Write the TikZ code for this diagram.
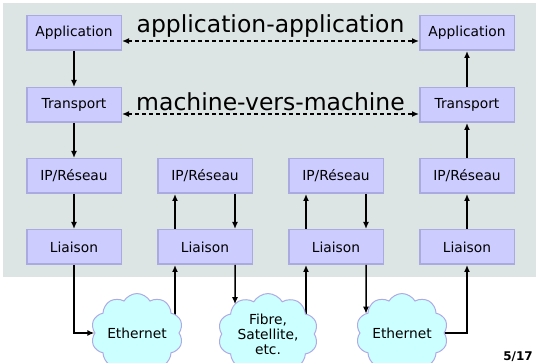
\documentclass[tikz,border=0pt]{standalone}
\usepackage{fontspec}
\setmainfont{DejaVu Sans}
\usetikzlibrary{shapes.symbols,arrows.meta,calc,backgrounds,intersections}

\definecolor{bgray}{RGB}{221,228,228}
\definecolor{boxfill}{RGB}{204,204,255}
\definecolor{boxline}{RGB}{170,170,225}
\definecolor{cloudfill}{RGB}{204,255,255}
\definecolor{cloudline}{RGB}{175,170,230}

\begin{document}
\begin{tikzpicture}[x=1pt,y=-1pt,
  layerbox/.style={draw=boxline, fill=boxfill, line width=1.5pt, minimum width=94.5pt, minimum height=34.5pt, inner sep=0pt, font=\fontsize{13.8}{16}\selectfont},
  netcloud/.style={cloud, cloud puffs=10, cloud puff arc=120, aspect=1.25, draw=cloudline, fill=cloudfill, line width=1pt, inner sep=0pt, font=\fontsize{13.8}{15}\selectfont, align=center},
  arr/.style={line width=1.5pt, -{Latex[length=7pt,width=6pt]}},
  dashedarr/.style={line width=1.3pt, dash pattern=on 4pt off 3pt, {Latex[length=7pt,width=6pt]}-{Latex[length=7pt,width=6pt]}},
  biglabel/.style={font=\fontsize{23.5}{26}\selectfont, inner sep=3pt, above}
]
\useasboundingbox (0,0) rectangle (536,363);

% layer boxes
\node[layerbox] (a1) at (74,33) {Application};
\node[layerbox] (t1) at (74,105) {Transport};
\node[layerbox] (i1) at (74,176) {IP/Réseau};
\node[layerbox] (l1) at (74,247) {Liaison};

\node[layerbox] (i2) at (205,176) {IP/Réseau};
\node[layerbox] (l2) at (205,247) {Liaison};

\node[layerbox] (i3) at (336,176) {IP/Réseau};
\node[layerbox] (l3) at (336,247) {Liaison};

\node[layerbox] (a4) at (467,33) {Application};
\node[layerbox] (t4) at (467,105) {Transport};
\node[layerbox] (i4) at (467,176) {IP/Réseau};
\node[layerbox] (l4) at (467,247) {Liaison};

% clouds
\node[netcloud, name path=c1, minimum width=88pt, minimum height=72pt] (e1) at (137,333) {Ethernet};
\node[netcloud, name path=c2, minimum width=100pt, minimum height=76pt] (e2) at (268,334) {Fibre,\\Satellite,\\etc.};
\node[netcloud, name path=c3, minimum width=92pt, minimum height=72pt] (e3) at (402,333) {Ethernet};

\node[anchor=base east, font=\bfseries\fontsize{12}{14}\selectfont, inner sep=0pt] (pg) at (533,361) {5/17};

\begin{scope}[on background layer]
  \fill[bgray] (3,3) rectangle (536,277);
  \draw[arr] ([xshift=-30pt]l2.south |- e1.center) -- ([xshift=-30pt]l2.south);
  \draw[arr] ([xshift=-30pt]l3.south |- e2.center) -- ([xshift=-30pt]l3.south);
\end{scope}

% vertical stack arrows
\draw[arr] (a1) -- (t1);
\draw[arr] (t1) -- (i1);
\draw[arr] (i1) -- (l1);

\draw[arr] (l4) -- (i4);
\draw[arr] (i4) -- (t4);
\draw[arr] (t4) -- (a4);

\draw[arr] ([xshift=-30pt]l2.north) -- ([xshift=-30pt]i2.south);
\draw[arr] ([xshift=30pt]i2.south) -- ([xshift=30pt]l2.north);
\draw[arr] ([xshift=-30pt]l3.north) -- ([xshift=-30pt]i3.south);
\draw[arr] ([xshift=30pt]i3.south) -- ([xshift=30pt]l3.north);

% peer dialogues
\draw[dashedarr] ([yshift=-8pt]a1.east) -- node[biglabel] {application-application} ([yshift=-8pt]a4.west);
\draw[dashedarr] ([yshift=-9pt]t1.east) -- node[biglabel] {machine-vers-machine} ([yshift=-9pt]t4.west);

% links to the media
\draw[arr] (l1.south) |- (e1.west);
\path[name path=v2] ([xshift=30pt]l2.south) -- ++(0,80);
\path[name path=v3] ([xshift=30pt]l3.south) -- ++(0,80);
\path[name intersections={of=v2 and c2, by={p2}, sort by=v2}];
\path[name intersections={of=v3 and c3, by={p3}, sort by=v3}];
\draw[arr] ([xshift=30pt]l2.south) -- (p2);
\draw[arr] ([xshift=30pt]l3.south) -- (p3);
\draw[arr] (e3.east) -| (l4.south);
\end{tikzpicture}
\end{document}
